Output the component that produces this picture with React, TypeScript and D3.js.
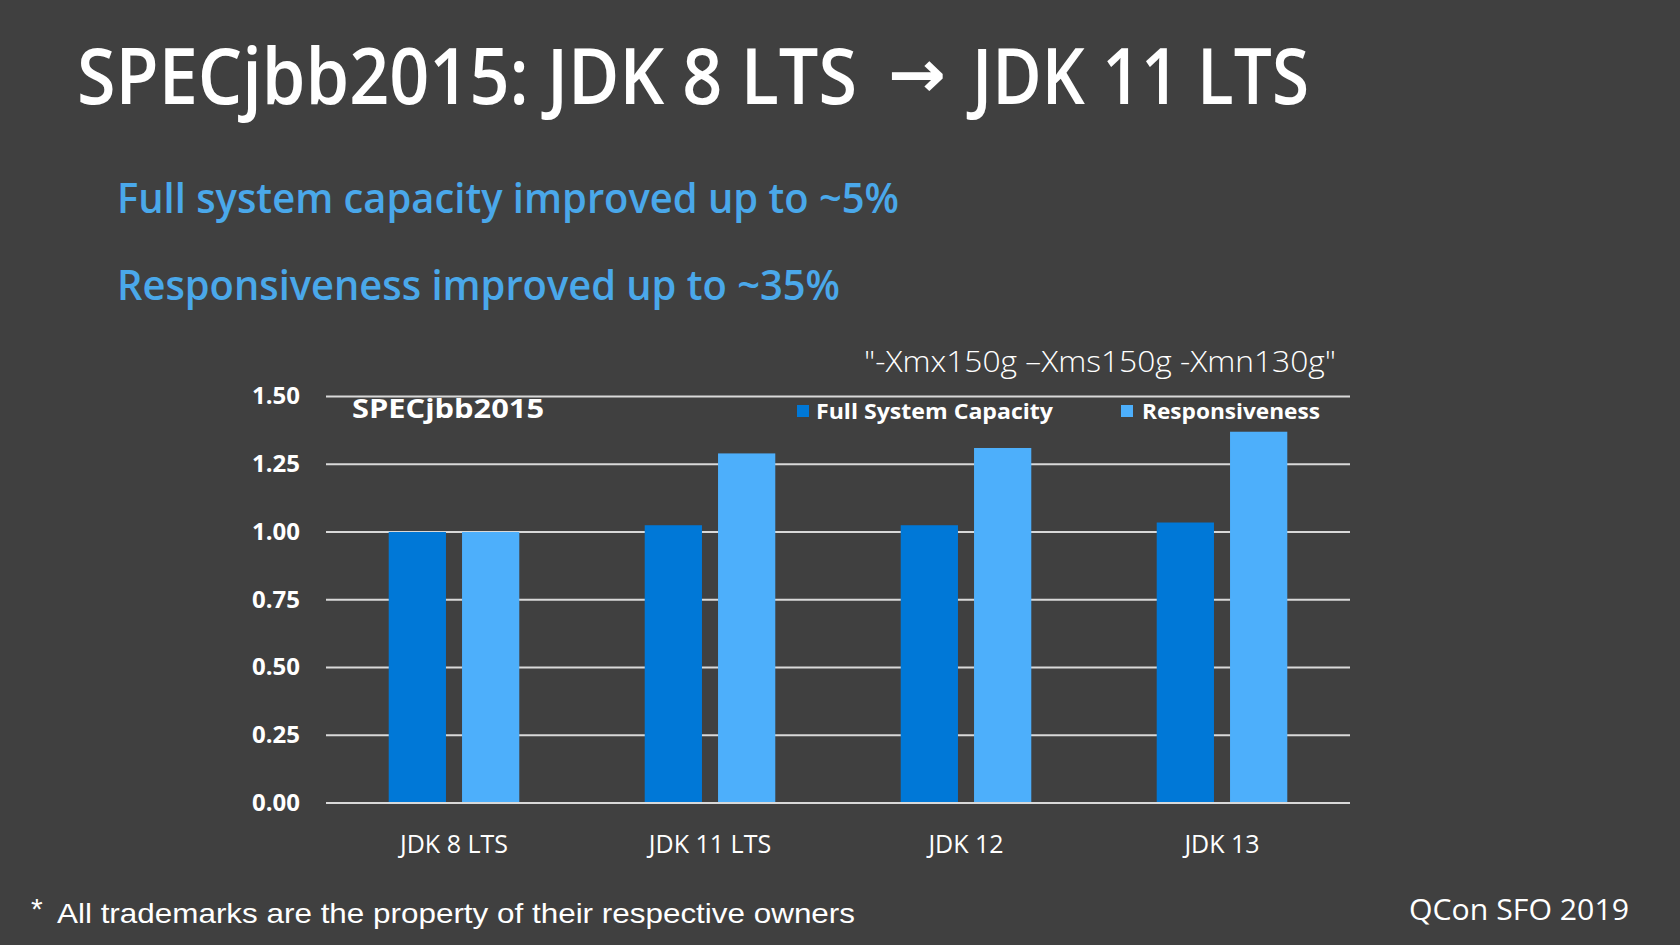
import React from "react";
import * as d3 from "d3";

const categories = ["JDK 8 LTS", "JDK 11 LTS", "JDK 12", "JDK 13"];
const seriesNames = ["Full System Capacity", "Responsiveness"];
const fullSystemCapacity = [1.0, 1.025, 1.025, 1.035];
const responsiveness = [1.0, 1.29, 1.31, 1.37];
const yTicks = [0, 0.25, 0.5, 0.75, 1.0, 1.25, 1.5];

const titleLeft = "SPECjbb2015: JDK 8 LTS";
const titleArrow = "\u2192";
const titleRight = "JDK 11 LTS";
const bullet1 = "Full system capacity improved up to ~5%";
const bullet2 = "Responsiveness improved up to ~35%";
const configText = "\"-Xmx150g \u2013Xms150g -Xmn130g\"";
const chartTitle = "SPECjbb2015";
const footerText = "All trademarks are the property of their respective owners";
const eventText = "QCon SFO 2019";

const W = 1680;
const H = 945;
const BG = "#404040";
const DARK = "#0078D7";
const LIGHT = "#4DAFFB";
const SUB = "#4AA8EA";
const GRID = "#D9D9D9";
const FONT = "'Open Sans', 'Noto Sans', sans-serif";

export default function App() {
  const x0 = d3
    .scaleBand<string>()
    .domain(categories)
    .range([326, 1350])
    .paddingInner(0.49)
    .paddingOuter(0.245);
  const x1 = d3
    .scaleBand<string>()
    .domain(seriesNames)
    .range([0, x0.bandwidth()])
    .paddingInner(16 / 73)
    .paddingOuter(0);
  const y = d3.scaleLinear().domain([0, 1.5]).range([803, 396.5]);
  const fmt = d3.format(".2f");
  const seriesData = [fullSystemCapacity, responsiveness];
  const colors = d3.scaleOrdinal<string, string>().domain(seriesNames).range([DARK, LIGHT]);

  return (
    <svg
      width={W}
      height={H}
      style={{ position: "absolute", left: 0, top: 0, display: "block" }}
      xmlns="http://www.w3.org/2000/svg"
    >
      <rect x={0} y={0} width={W} height={H} fill={BG} />

      <g transform="translate(77,104) scale(1,1.15)">
        <text x={0} y={0} fill="#FFFFFF" fontFamily={FONT} fontSize={68} fontWeight={600}
          textLength={780} lengthAdjust="spacingAndGlyphs">
          {titleLeft}
        </text>
      </g>
      <text x={888} y={97} fill="#FFFFFF" fontFamily="'DejaVu Sans', sans-serif" fontSize={66}
        fontWeight={700} textLength={58} lengthAdjust="spacingAndGlyphs">
        {titleArrow}
      </text>
      <g transform="translate(972,104) scale(1,1.15)">
        <text x={0} y={0} fill="#FFFFFF" fontFamily={FONT} fontSize={68} fontWeight={600}
          textLength={337} lengthAdjust="spacingAndGlyphs">
          {titleRight}
        </text>
      </g>

      <text x={117} y={213} fill={SUB} fontFamily={FONT} fontSize={41} fontWeight={600}
        textLength={782} lengthAdjust="spacingAndGlyphs">
        {bullet1}
      </text>
      <text x={117} y={300} fill={SUB} fontFamily={FONT} fontSize={41} fontWeight={600}
        textLength={723} lengthAdjust="spacingAndGlyphs">
        {bullet2}
      </text>

      <text x={1336} y={372} textAnchor="end" fill="#FFFFFF" fontFamily={FONT} fontSize={29}
        fontWeight={300} textLength={472} lengthAdjust="spacingAndGlyphs">
        {configText}
      </text>

      {/* gridlines (except baseline) */}
      {yTicks.filter((t) => t > 0).map((t) => (
        <line key={"g" + t} x1={326} x2={1350} y1={y(t)} y2={y(t)} stroke={GRID} strokeWidth={1.8} />
      ))}

      {/* y tick labels */}
      {yTicks.map((t) => (
        <text key={"t" + t} x={300} y={y(t)} dy="0.35em" textAnchor="end" fill="#FFFFFF"
          fontFamily={FONT} fontSize={22.5} fontWeight={700} textLength={48} lengthAdjust="spacingAndGlyphs">
          {fmt(t)}
        </text>
      ))}

      {/* bars */}
      {categories.map((c, i) => (
        <g key={c} transform={`translate(${x0(c)},0)`}>
          {seriesNames.map((s, j) => (
            <rect
              key={s}
              x={x1(s)}
              y={y(seriesData[j][i])}
              width={x1.bandwidth()}
              height={y(0) - y(seriesData[j][i])}
              fill={colors(s)}
            />
          ))}
        </g>
      ))}

      {/* baseline */}
      <line x1={326} x2={1350} y1={y(0)} y2={y(0)} stroke={GRID} strokeWidth={1.8} />

      {/* x labels */}
      {categories.map((c) => (
        <text key={"x" + c} x={(x0(c) as number) + x0.bandwidth() / 2} y={853} textAnchor="middle"
          fill="#FFFFFF" fontFamily={FONT} fontSize={25} fontWeight={400}>
          {c}
        </text>
      ))}

      {/* chart title */}
      <text x={352} y={418} fill="#FFFFFF" fontFamily={FONT} fontSize={27} fontWeight={700}
        textLength={192} lengthAdjust="spacingAndGlyphs">
        {chartTitle}
      </text>

      {/* legend */}
      <rect x={797} y={405} width={12} height={12} fill={DARK} />
      <text x={816} y={419} fill="#FFFFFF" fontFamily={FONT} fontSize={22} fontWeight={700}
        textLength={237} lengthAdjust="spacingAndGlyphs">
        {seriesNames[0]}
      </text>
      <rect x={1121} y={405} width={12} height={12} fill={LIGHT} />
      <text x={1142} y={419} fill="#FFFFFF" fontFamily={FONT} fontSize={22} fontWeight={700}
        textLength={178} lengthAdjust="spacingAndGlyphs">
        {seriesNames[1]}
      </text>

      {/* footer */}
      <text x={31} y={919} fill="#FFFFFF" fontFamily="'Liberation Sans', Arial, sans-serif" fontSize={30}>
        *
      </text>
      <text x={57} y={923} fill="#FFFFFF" fontFamily="'Liberation Sans', Arial, sans-serif" fontSize={28}
        textLength={798} lengthAdjust="spacingAndGlyphs">
        {footerText}
      </text>
      <text x={1409} y={920} fill="#FFFFFF" fontFamily={FONT} fontSize={29} fontWeight={400}
        textLength={220} lengthAdjust="spacingAndGlyphs">
        {eventText}
      </text>
    </svg>
  );
}
